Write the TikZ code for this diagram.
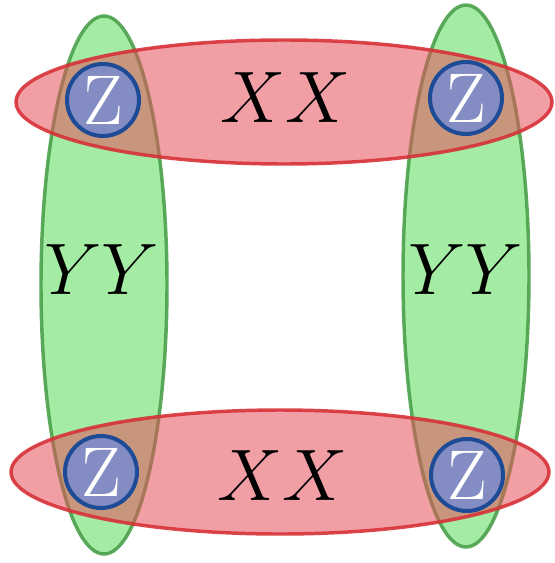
\documentclass[tikz,border=0pt]{standalone}
\usepackage{graphicx}
\usepackage{tikz}
\definecolor{redfill}{RGB}{230,80,90}
\definecolor{redline}{RGB}{215,50,55}
\definecolor{greenfill}{RGB}{90,220,90}
\definecolor{greenline}{RGB}{75,160,75}
\definecolor{zfill}{RGB}{132,140,196}
\definecolor{zline}{RGB}{30,75,150}
\newcommand{\zletter}{\scalebox{2.12}{\Huge Z}}
\newcommand{\biglbl}[1]{\scalebox{2.2}{\Huge $#1$}}
\tikzset{
  greenell/.style={draw=greenline, line width=2.6pt, fill=greenfill, fill opacity=0.55, draw opacity=0.9},
  redell/.style={draw=redline, line width=2.6pt, fill=redfill, fill opacity=0.55, draw opacity=0.9},
  zcirc/.style={circle, draw=zline, line width=3pt, fill=zfill, minimum size=54pt, inner sep=0pt,
    text=white},
  lbl/.style={inner sep=0pt}
}
\begin{document}
\begin{tikzpicture}[x=0.75pt,y=-0.75pt]
\useasboundingbox (0,0) rectangle (554,563);
\draw[greenell] (104,285) ellipse [x radius=63, y radius=269];
\draw[greenell] (466,276) ellipse [x radius=63, y radius=271];
\draw[redell] (284,102) ellipse [x radius=268, y radius=62];
\draw[redell] (280,472) ellipse [x radius=269, y radius=62];
\node[zcirc] (z1) at (103,100) {\zletter};
\node[zcirc] (z2) at (466,98) {\zletter};
\node[zcirc] (z3) at (101,472) {\zletter};
\node[zcirc] (z4) at (467,475) {\zletter};
\node[lbl] (x1) at (286,98) {\biglbl{XX}};
\node[lbl] (x2) at (283,476) {\biglbl{XX}};
\node[lbl] (y1) at (102,270) {\biglbl{YY}};
\node[lbl] (y2) at (466,270) {\biglbl{YY}};
\end{tikzpicture}
\end{document}
